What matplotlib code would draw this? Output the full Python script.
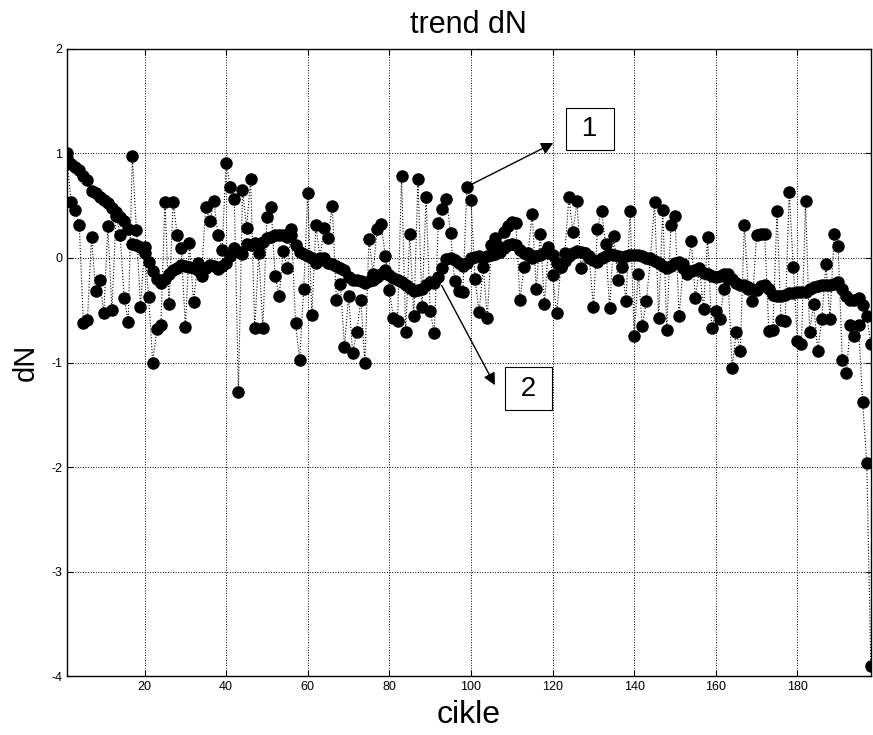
import numpy as np
import matplotlib
matplotlib.use("Agg")
import matplotlib.pyplot as plt

plt.rcParams['font.family'] = ['Liberation Sans', 'DejaVu Sans']
plt.rcParams['axes.unicode_minus'] = False

# series 1: raw dN per cycle
dn_raw = [
    0.95, 0.53, 0.46, 0.31, -0.62, -0.59, 0.20, -0.32, -0.21, -0.53,
    0.30, -0.50, 0.40, 0.22, -0.38, -0.61, 0.97, 0.27, -0.47, 0.10,
    -0.37, -1.00, -0.68, -0.64, 0.53, -0.44, 0.53, 0.22, 0.09, -0.66,
    0.14, -0.42, -0.05, -0.12, 0.49, 0.35, 0.54, 0.22, 0.08, 0.91,
    0.68, 0.56, -1.28, 0.65, 0.29, 0.75, -0.67, 0.05, -0.67, 0.39,
    0.49, -0.17, -0.36, 0.07, -0.10, 0.28, -0.62, -0.98, -0.30, 0.62,
    -0.55, 0.31, 0.00, 0.29, 0.19, 0.50, -0.40, -0.25, -0.85, -0.36,
    -0.91, -0.71, -0.40, -1.00, 0.18, -0.15, 0.28, 0.32, 0.02, -0.31,
    -0.57, -0.60, 0.78, -0.71, 0.23, -0.56, 0.75, -0.47, 0.58, -0.51,
    -0.72, 0.33, 0.47, 0.56, 0.24, -0.22, -0.32, -0.33, 0.68, 0.55,
    -0.20, -0.52, -0.09, -0.57, 0.12, 0.19, 0.10, 0.25, 0.30, 0.34,
    0.33, -0.40, -0.09, 0.05, 0.42, -0.30, 0.23, -0.44, 0.10, -0.16,
    -0.53, -0.09, 0.05, 0.58, 0.25, 0.54, -0.10, 0.05, 0.00, -0.47,
    0.28, 0.45, 0.13, -0.48, 0.21, -0.21, -0.09, -0.41, 0.45, -0.75,
    -0.15, -0.65, -0.41, 0.00, 0.53, -0.57, 0.46, -0.69, 0.31, 0.40,
    -0.56, -0.10, -0.15, 0.16, -0.38, -0.10, -0.49, 0.20, -0.67, -0.51,
    -0.58, -0.30, -0.20, -1.05, -0.71, -0.89, 0.31, -0.30, -0.41, 0.22,
    0.23, 0.23, -0.70, -0.69, 0.45, -0.59, -0.60, 0.63, -0.09, -0.79,
    -0.82, 0.54, -0.71, -0.44, -0.89, -0.58, -0.06, -0.58, 0.23, 0.11,
    -0.98, -1.10, -0.64, -0.75, -0.64, -1.38, -1.96, -3.90,
]

# series 2: trend
dn_trend = [
    1.00, 0.90, 0.87, 0.84, 0.78, 0.74, 0.64, 0.62, 0.58, 0.55,
    0.52, 0.48, 0.44, 0.39, 0.35, 0.28, 0.13, 0.12, 0.10, 0.05,
    -0.04, -0.13, -0.20, -0.24, -0.20, -0.15, -0.12, -0.10, -0.07, -0.08,
    -0.09, -0.10, -0.12, -0.17, -0.10, -0.07, -0.08, -0.11, -0.08, -0.05,
    0.02, 0.09, 0.06, 0.04, 0.13, 0.12, 0.14, 0.12, 0.15, 0.19,
    0.20, 0.22, 0.22, 0.22, 0.20, 0.22, 0.12, 0.06, 0.04, 0.02,
    0.00, -0.05, -0.02, 0.00, -0.05, -0.06, -0.08, -0.10, -0.12, -0.18,
    -0.21, -0.21, -0.22, -0.24, -0.22, -0.21, -0.18, -0.15, -0.12, -0.16,
    -0.19, -0.21, -0.23, -0.26, -0.29, -0.32, -0.31, -0.30, -0.26, -0.23,
    -0.24, -0.18, -0.10, -0.01, 0.00, -0.02, -0.05, -0.08, -0.05, 0.00,
    0.01, 0.02, 0.00, 0.02, 0.03, 0.04, 0.06, 0.09, 0.12, 0.13,
    0.12, 0.08, 0.05, 0.03, 0.00, 0.02, 0.03, 0.05, 0.07, 0.03,
    -0.05, -0.09, -0.03, 0.02, 0.05, 0.07, 0.06, 0.05, 0.02, -0.02,
    -0.04, 0.00, 0.02, 0.04, 0.03, 0.02, 0.01, 0.02, 0.03, 0.03,
    0.03, 0.02, 0.00, -0.01, -0.03, -0.05, -0.08, -0.10, -0.08, -0.05,
    -0.04, -0.06, -0.13, -0.13, -0.12, -0.12, -0.14, -0.15, -0.17, -0.18,
    -0.17, -0.15, -0.15, -0.20, -0.24, -0.26, -0.26, -0.28, -0.30, -0.31,
    -0.27, -0.26, -0.30, -0.35, -0.36, -0.36, -0.35, -0.34, -0.34, -0.33,
    -0.33, -0.33, -0.30, -0.28, -0.27, -0.26, -0.26, -0.26, -0.25, -0.23,
    -0.30, -0.36, -0.40, -0.40, -0.38, -0.45, -0.56, -0.82,
]

x_ticks = [20, 40, 60, 80, 100, 120, 140, 160, 180]
y_ticks = [-4, -3, -2, -1, 0, 1, 2]

cycles = np.arange(1, len(dn_raw) + 1)

fig = plt.figure(figsize=(8.73, 7.35), dpi=100)
ax = fig.add_axes([0.0768, 0.0796, 0.9207, 0.8543])

style = dict(color='black', linestyle=':', linewidth=0.8,
             marker='o', markersize=8, markerfacecolor='black',
             markeredgecolor='black')
ax.plot(cycles, dn_raw, **style)
ax.plot(cycles, dn_trend, **style)

ax.set_xlim(1, len(dn_raw))
ax.set_ylim(-4, 2)
ax.set_xticks(x_ticks)
ax.set_yticks(y_ticks)
ax.tick_params(direction='in', labelsize=9, length=4, top=True, right=True)
ax.grid(True, color='black', linestyle=':', linewidth=0.7)
for s in ax.spines.values():
    s.set_linewidth(1.0)

ax.set_title('trend dN', fontsize=22, pad=11)
ax.set_xlabel('cikle', fontsize=23, labelpad=5)
ax.set_ylabel('dN', fontsize=21, labelpad=8)

box = dict(boxstyle='square,pad=0.3', facecolor='white', edgecolor='black', linewidth=0.8)
ax.annotate('', xy=(120.8, 1.11), xytext=(99, 0.68),
            arrowprops=dict(arrowstyle='-|>', color='black', lw=1.0, mutation_scale=18))
ax.text(129.1, 1.23, ' 1 ', fontsize=20, ha='center', va='center', bbox=box)
ax.annotate('', xy=(106.2, -1.24), xytext=(92.5, -0.24),
            arrowprops=dict(arrowstyle='-|>', color='black', lw=1.0, mutation_scale=18))
ax.text(114.1, -1.25, ' 2 ', fontsize=20, ha='center', va='center', bbox=box)

fig.savefig('out.png', dpi=100)
